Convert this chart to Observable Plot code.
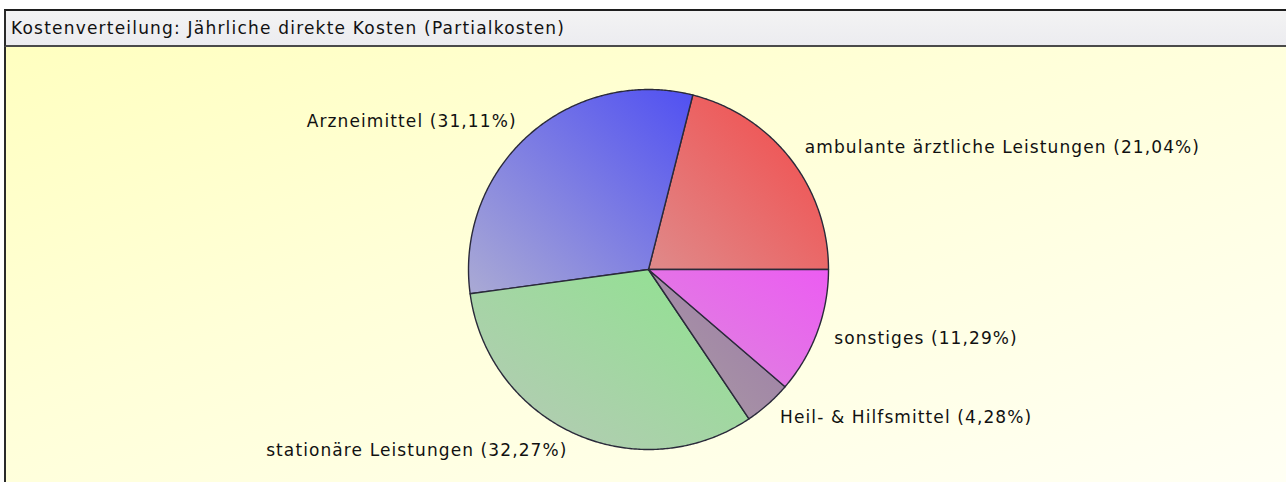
<!DOCTYPE html>
<html><head><meta charset="utf-8">
<script src="https://cdn.jsdelivr.net/npm/d3@7"></script>
<script src="https://cdn.jsdelivr.net/npm/@observablehq/plot@0.6"></script>
<style>
html,body{margin:0;padding:0;background:#fff;width:1286px;height:482px;overflow:hidden;font-family:"DejaVu Sans",sans-serif;}
#titlebar{position:absolute;left:4px;top:9px;width:1300px;height:34px;border-top:2px solid #1e1e1e;border-bottom:2px solid #4a4a4a;border-left:2px solid #2a2a2a;background:linear-gradient(#f3f3f3,#ececf0);font-size:17px;line-height:34px;padding-left:5px;color:#111;letter-spacing:1.2px;white-space:nowrap;}
#panel{position:absolute;left:4px;top:47px;width:1300px;height:435px;border-left:2px solid #2a2a2a;background:linear-gradient(160deg,#ffffc0 0%,#ffffd8 40%,#fffff4 100%);}
#chart{position:absolute;left:0;top:47px;}
</style></head>
<body>
<div id="titlebar">Kostenverteilung: Jährliche direkte Kosten (Partialkosten)</div>
<div id="panel"></div>
<div id="chart"></div>
<script>
// ---- data ----
const categories = ["ambulante ärztliche Leistungen", "Arzneimittel", "stationäre Leistungen", "Heil- & Hilfsmittel", "sonstiges"];
const shares = [21.04, 31.11, 32.27, 4.28, 11.29];
// ---- styles ----
const gradTop = ["#f44848", "#5050f2", "#8ee48e", "#9c7aa8", "#ec5cf2"];
const gradBottom = ["#df8a8a", "#aaaad4", "#b8c8b8", "#ab9ca4", "#dc88dc"];

const W = 1286, H = 435, R = 180, CX = 648, CY = 222;
const total = d3.sum(shares);
let acc = 0;
const slices = categories.map((name, i) => {
  const a0 = acc / total * 2 * Math.PI;
  acc += shares[i];
  const a1 = acc / total * 2 * Math.PI;
  return {i, name, value: shares[i], a0, a1, mid: (a0 + a1) / 2};
});
const pts = [];
for (const s of slices) {
  pts.push({i: s.i, x: 0, y: 0});
  const n = Math.max(2, Math.ceil((s.a1 - s.a0) / (Math.PI / 360)));
  for (let k = 0; k <= n; k++) {
    const a = s.a0 + (s.a1 - s.a0) * k / n;
    pts.push({i: s.i, x: Math.cos(a), y: Math.sin(a)});
  }
  pts.push({i: s.i, x: 0, y: 0});
}
const fmt = v => v.toFixed(2).replace(".", ",") + "%";
const labels = slices.map(s => ({
  text: `${s.name} (${fmt(s.value)})`,
  x: 1.1 * Math.cos(s.mid), y: 1.1 * Math.sin(s.mid), right: Math.cos(s.mid) >= 0
}));

const svg = Plot.plot({
  width: W, height: H, margin: 0,
  x: {domain: [-CX / R, (W - CX) / R], range: [0, W], axis: null},
  y: {domain: [-(H - CY) / R, CY / R], range: [H, 0], axis: null},
  style: {background: "transparent", fontFamily: "DejaVu Sans, sans-serif", letterSpacing: "1.1px"},
  marks: [
    ...slices.map(s => Plot.line(pts.filter(p => p.i === s.i), {
      x: "x", y: "y", fill: `url(#g${s.i})`, stroke: "#2a2a3a", strokeWidth: 1.4, strokeLinejoin: "round"
    })),
    Plot.text(labels.filter(d => d.right), {x: "x", y: "y", text: "text", textAnchor: "start", fontSize: 17, fill: "#111"}),
    Plot.text(labels.filter(d => !d.right), {x: "x", y: "y", text: "text", textAnchor: "end", fontSize: 17, fill: "#111"})
  ]
});
const defs = d3.select(svg).insert("defs", ":first-child");
slices.forEach(s => {
  const g = defs.append("linearGradient").attr("id", `g${s.i}`)
    .attr("x1", 1).attr("y1", 0).attr("x2", 0).attr("y2", 1);
  g.append("stop").attr("offset", "0%").attr("stop-color", gradTop[s.i]);
  g.append("stop").attr("offset", "100%").attr("stop-color", gradBottom[s.i]);
});
document.getElementById("chart").appendChild(svg);
</script>
</body></html>
